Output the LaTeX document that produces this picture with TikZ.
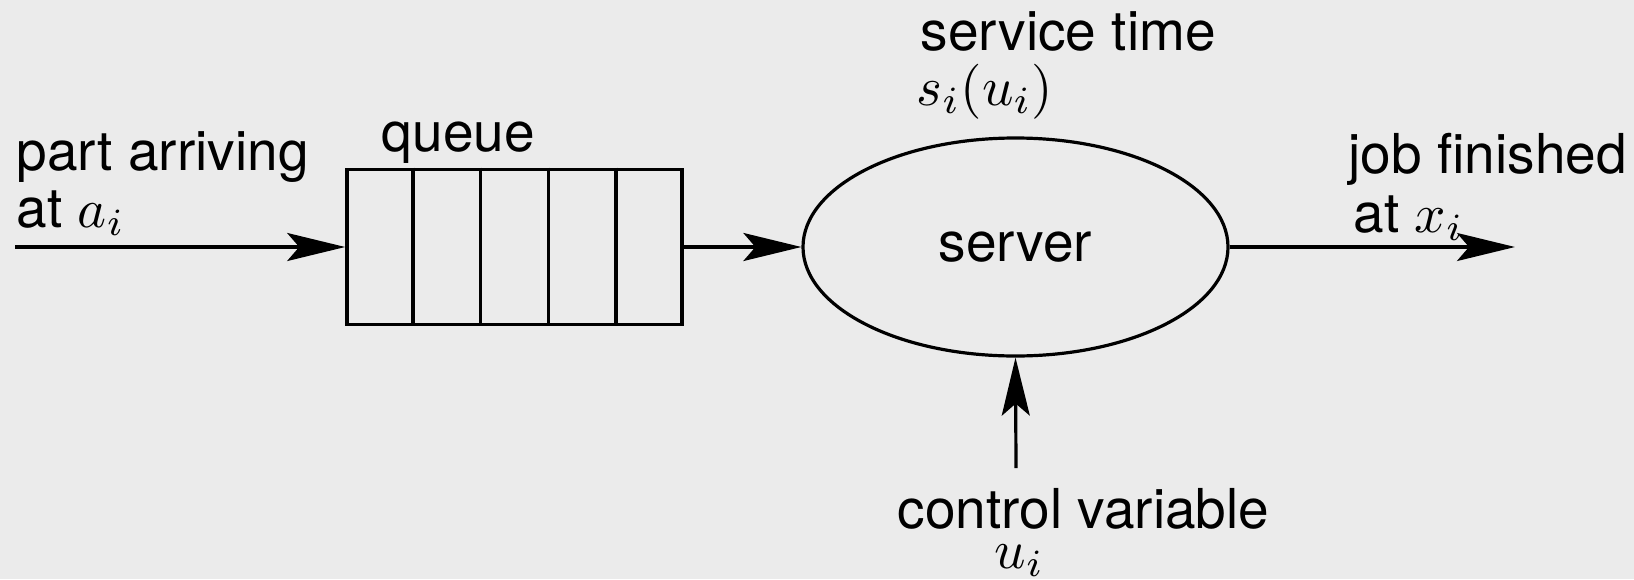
\documentclass[tikz,border=0pt]{standalone}
\usepackage{fontspec}
\setmainfont{TeX Gyre Heros}
\usetikzlibrary{shapes.geometric,arrows.meta,calc}
\definecolor{bg}{RGB}{235,235,235}
% math set at 10pt and enlarged to the label size
\newcommand{\bigmath}[1]{\scalebox{5.5}{\fontsize{10pt}{12pt}\selectfont$#1$}}
\begin{document}
\begin{tikzpicture}[x=1pt,y=-1pt,
  line width=3.2pt,
  arr/.style={-{Stealth[length=58pt,width=28pt,inset=12pt]}},
  lbl/.style={inner sep=0pt,anchor=base west,font=\fontsize{55pt}{57pt}\selectfont},
  queuebox/.style={draw,rectangle,minimum width=335pt,minimum height=155pt,inner sep=0pt,line width=3.6pt},
  serverbox/.style={draw,ellipse,minimum width=425pt,minimum height=218pt,inner sep=0pt,font=\fontsize{55pt}{57pt}\selectfont}]
  \fill[bg] (0,0) rectangle (1634,579);
  \useasboundingbox (0,0) rectangle (1634,579);

  % queue with five slots
  \node[queuebox] (queue) at (514.5,247) {};
  \foreach \k in {1,2,3,4}
    \draw[line width=3.6pt] ($(queue.north west)!\k/5!(queue.north east)$) -- ($(queue.south west)!\k/5!(queue.south east)$);

  % server
  \node[serverbox] (server) at (1015.5,247) {\raisebox{-7pt}{server}};

  % connectors
  \coordinate (in) at (15,247);
  \coordinate (out) at (1515,247);
  \coordinate (ctrl) at (1016,468);
  \draw[arr] (in) -- (queue.west);
  \draw[arr] (queue.east) -- (server.west);
  \draw[arr] (server.east) -- (out);
  \draw[arr] (ctrl) -- (server.south);

  % labels
  \node[lbl] (t1) at (15,170) {part arriving};
  \node[lbl] (t2) at (15,227) {at \bigmath{a_i}};
  \node[lbl] (t3) at (380,151) {queue};
  \node[lbl] (t4) at (919,50) {service time};
  \node[lbl] (t5) at (915,105) {\bigmath{s_i(u_i)}};
  \node[lbl] (t6) at (1347,173) {job finished};
  \node[lbl] (t7) at (1352,232) {at \bigmath{x_i}};
  \node[lbl] (t8) at (896,528) {control variable};
  \node[lbl] (t9) at (993,568) {\bigmath{u_i}};
\end{tikzpicture}
\end{document}
